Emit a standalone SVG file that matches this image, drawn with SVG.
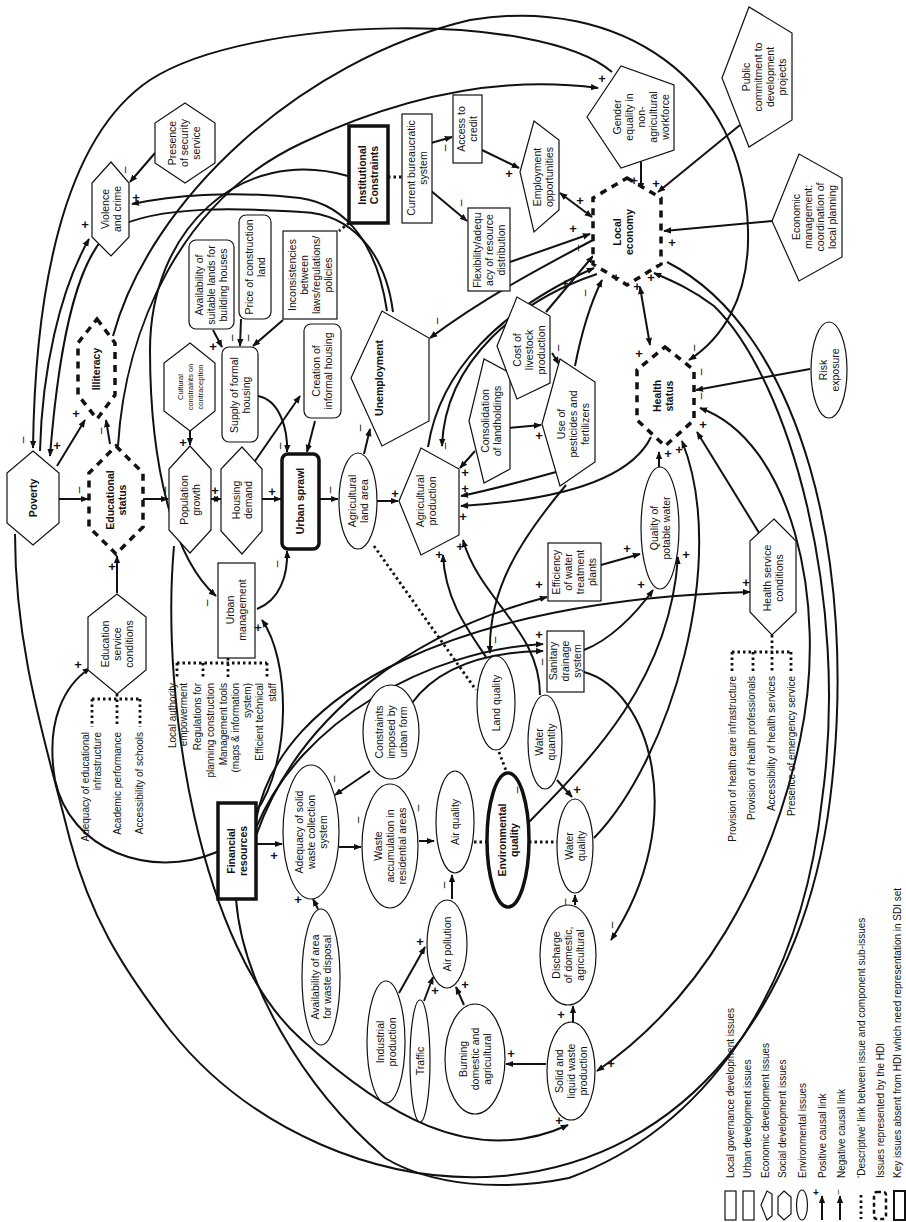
<svg xmlns="http://www.w3.org/2000/svg" width="906" height="1222" viewBox="0 0 906 1222">
<defs>
<style>
.s{fill:#fff;stroke:#111;stroke-width:1.2}
.k{fill:#fff;stroke:#111;stroke-width:3.5}
.d{fill:#fff;stroke:#111;stroke-width:3.5;stroke-dasharray:7 6}
.c{fill:none;stroke:#111;stroke-width:2}
.o{fill:none;stroke:#111;stroke-width:2.8;stroke-dasharray:2.5 3}
text{font-family:"Liberation Sans",Arial,sans-serif;fill:#111}
.t{font-size:10.5px;text-anchor:middle}
.b{font-size:10.5px;font-weight:bold;text-anchor:middle}
.sm{font-size:7.5px;text-anchor:middle}
.e{font-size:10px;text-anchor:end}
.lg{font-size:10px}
.p{font-size:13px;font-weight:bold;text-anchor:middle;dominant-baseline:central}
.m{font-size:12px;text-anchor:middle;dominant-baseline:central}
</style>
<marker id="a" viewBox="0 0 10 10" refX="9" refY="5" markerWidth="8" markerHeight="8" markerUnits="userSpaceOnUse" orient="auto-start-reverse"><path d="M0,1 L10,5 L0,9 z" fill="#111"/></marker>
</defs>
<rect width="906" height="1222" fill="#fff"/>

<g id="connectors">
<path class="c" d="M612,72 C540,10 250,15 150,80 C60,140 35,300 33,448" marker-end="url(#a)"/>
<path class="c" d="M113,336 C150,200 300,60 470,20 C620,-5 745,80 748,230 C750,300 720,340 689,360" marker-end="url(#a)"/>
<path class="c" d="M118,446 C125,330 180,200 302,143 C400,97 500,75 598,88" marker-end="url(#a)"/>
<path class="c" d="M40,451 C42,370 60,290 89,239" marker-end="url(#a)"/>
<path class="c" d="M387,311 C378,250 350,205 300,198 C230,190 170,196 132,204" marker-end="url(#a)"/>
<path class="c" d="M393,312 C385,250 350,214 302,212 C240,208 160,205 115,228 C80,250 60,330 50,456" marker-end="url(#a)"/>
<path class="c" d="M348,176 C240,145 150,230 150,350 C150,470 175,560 216,596" marker-end="url(#a)"/>
<path class="c" d="M256,812 C292,760 290,660 262,620" marker-end="url(#a)"/>
<path class="c" d="M256,836 C300,710 420,630 547,597" marker-end="url(#a)"/>
<path class="c" d="M256,828 C300,720 430,650 543,644" marker-end="url(#a)"/>
<path class="c" d="M256,820 C280,690 460,600 750,592" marker-end="url(#a)"/>
<path class="c" d="M412,703 C440,665 490,652 543,651" marker-end="url(#a)"/>
<path class="c" d="M217,852 C150,880 70,850 55,780 C45,720 65,685 90,668" marker-end="url(#a)"/>
<path class="c" d="M584,672 C650,690 690,820 611,940" marker-end="url(#a)"/>
<path class="c" d="M584,650 C610,640 635,615 653,590" marker-end="url(#a)"/>
<path class="c" d="M529,822 C590,760 670,680 678,557" marker-end="url(#a)"/>
<path class="c" d="M594,838 C670,760 730,560 682,441" marker-end="url(#a)"/>
<path class="c" d="M540,695 C540,630 480,600 463,540" marker-end="url(#a)"/>
<path class="c" d="M486,657 C468,630 445,600 443,555" marker-end="url(#a)"/>
<path class="c" d="M566,485 C520,540 488,590 490,653" marker-end="url(#a)"/>
<path class="c" d="M428,447 C440,370 500,310 594,268" marker-end="url(#a)"/>
<path class="c" d="M597,274 C520,300 445,360 442,446" marker-end="url(#a)"/>
<path class="c" d="M575,366 C582,330 592,300 602,280" marker-end="url(#a)"/>
<path class="c" d="M546,312 L593,256" marker-end="url(#a)"/>
<path class="c" d="M593,240 C540,268 480,300 430,338" marker-end="url(#a)"/>
<path class="c" d="M651,437 C630,480 560,500 461,506" marker-end="url(#a)"/>
<path class="c" d="M556,472 C520,482 490,490 461,496" marker-end="url(#a)"/>
<path class="c" d="M667,262 C800,330 860,560 830,800 C805,1000 690,1160 502,1176 C380,1186 250,1130 170,1030 C120,965 90,915 70,840 C45,740 15,650 15,534"/>
<path class="c" d="M236,899 C242,980 300,1085 385,1158 C430,1185 500,1192 569,1178 C700,1130 800,1000 822,800 C850,600 790,380 714,306 C690,288 670,280 654,273" marker-end="url(#a)"/>
<path class="c" d="M174,546 C160,700 200,950 302,1040 C380,1110 470,1170 568,1125" marker-end="url(#a)"/>
<path class="c" d="M597,1071 C700,1000 770,880 800,740 C830,600 790,440 700,408" marker-start="url(#a)" marker-end="url(#a)"/>
<path class="c" d="M155,153 L130,182" marker-end="url(#a)"/>
<path class="c" d="M424,145 L452,137" marker-end="url(#a)"/>
<path class="c" d="M430,190 L467,221" marker-end="url(#a)"/>
<path class="c" d="M482,150 L519,168" marker-end="url(#a)"/>
<path class="c" d="M560,193 L592,217" marker-start="url(#a)" marker-end="url(#a)"/>
<path class="c" d="M510,262 L590,234" marker-end="url(#a)"/>
<path class="c" d="M641,162 L641,190" marker-end="url(#a)"/>
<path class="c" d="M740,125 L658,192" marker-end="url(#a)"/>
<path class="c" d="M772,221 L664,231" marker-end="url(#a)"/>
<path class="c" d="M640,287 L650,345" marker-start="url(#a)" marker-end="url(#a)"/>
<path class="c" d="M59,499 L88,499" marker-end="url(#a)"/>
<path class="c" d="M57,466 L85,420" marker-end="url(#a)"/>
<path class="c" d="M110,444 L106,420" marker-end="url(#a)"/>
<path class="c" d="M190,431 L190,445" marker-end="url(#a)"/>
<path class="c" d="M143,499 L168,499" marker-end="url(#a)"/>
<path class="c" d="M211,499 L221,499" marker-start="url(#a)" marker-end="url(#a)"/>
<path class="c" d="M262,499 L281,499" marker-end="url(#a)"/>
<path class="c" d="M213,330 L222,347" marker-end="url(#a)"/>
<path class="c" d="M241,319 L240,346" marker-end="url(#a)"/>
<path class="c" d="M283,320 L253,346" marker-end="url(#a)"/>
<path class="c" d="M255,461 L300,396" marker-end="url(#a)"/>
<path class="c" d="M315,421 L307,452" marker-end="url(#a)"/>
<path class="c" d="M258,396 C280,400 288,430 287,452" marker-end="url(#a)"/>
<path class="c" d="M257,609 C280,600 288,575 287,551" marker-end="url(#a)"/>
<path class="c" d="M117,593 L117,556" marker-end="url(#a)"/>
<path class="c" d="M319,499 L338,499" marker-end="url(#a)"/>
<path class="c" d="M364,454 L370,429" marker-end="url(#a)"/>
<path class="c" d="M377,501 L398,501" marker-end="url(#a)"/>
<path class="c" d="M475,451 L460,468" marker-end="url(#a)"/>
<path class="c" d="M507,428 L541,425" marker-end="url(#a)"/>
<path class="c" d="M552,353 L559,364" marker-end="url(#a)"/>
<path class="c" d="M601,565 L640,554" marker-end="url(#a)"/>
<path class="c" d="M659,467 L659,452" marker-end="url(#a)"/>
<path class="c" d="M810,369 L696,390" marker-end="url(#a)"/>
<path class="c" d="M761,536 L697,432" marker-end="url(#a)"/>
<path class="c" d="M557,780 L572,797" marker-end="url(#a)"/>
<path class="c" d="M339,847 L361,847" marker-end="url(#a)"/>
<path class="c" d="M419,841 L434,841" marker-end="url(#a)"/>
<path class="c" d="M370,771 L335,795" marker-end="url(#a)"/>
<path class="c" d="M452,899 L452,875" marker-end="url(#a)"/>
<path class="c" d="M575,905 L575,895" marker-end="url(#a)"/>
<path class="c" d="M399,993 L425,947" marker-end="url(#a)"/>
<path class="c" d="M424,1001 L433,977" marker-end="url(#a)"/>
<path class="c" d="M464,1005 L456,987" marker-end="url(#a)"/>
<path class="c" d="M546,1064 L506,1064" marker-end="url(#a)"/>
<path class="c" d="M573,1022 L573,1006" marker-end="url(#a)"/>
<path class="c" d="M318,909 L313,899" marker-end="url(#a)"/>
<path class="c" d="M257,844 L282,844" marker-end="url(#a)"/>
<path class="o" d="M388,177 L402,177"/>
<path class="o" d="M349,223 L339,231"/>
<path class="o" d="M374,546 L476,690"/>
<path class="o" d="M499,752 L507,773"/>
<path class="o" d="M474,842 L487,842"/>
<path class="o" d="M529,842 L557,842"/>
<path class="o" d="M117,694 L117,727 M92,699 L140,699 M92,699 L92,727 M140,699 L140,727"/>
<path class="o" d="M177,663 L267,663 M177,663 L177,679 M203,663 L203,677 M228,658 L228,679 M267,663 L267,679"/>
<path class="o" d="M772,635 L772,672 M732,652 L791,652 M732,652 L732,672 M753,652 L753,672 M791,652 L791,672"/>
</g>

<g id="nodes">
<g id="n-poverty"><polygon class="s" points="33,451 59,473 59,523 33,545 7,523 7,473"/><text class="b" transform="translate(37,498) rotate(-90)">Poverty</text></g>
<g id="n-educational"><polygon class="d" points="116,446 143,473 143,527 116,554 89,527 89,473"/><text class="b" transform="translate(114,500) rotate(-90)"><tspan x="0">Educational</tspan><tspan x="0" dy="12">status</tspan></text></g>
<g id="n-illiteracy"><polygon class="d" points="97,319 115,343 115,395 97,419 78,395 78,343"/><text class="b" transform="translate(100,369) rotate(-90)">Illiteracy</text></g>
<g id="n-violence"><polygon class="s" points="111,162 129,183 129,237 111,256 92,237 92,183"/><text class="t" transform="translate(109,209) rotate(-90)"><tspan x="0">Violence</tspan><tspan x="0" dy="12">and crime</tspan></text></g>
<g id="n-security"><polygon class="s" points="185,103 215,123 215,163 185,183 155,163 155,123"/><text class="t" transform="translate(176,143) rotate(-90)"><tspan x="0">Presence</tspan><tspan x="0" dy="12">of security</tspan><tspan x="0" dy="12">service</tspan></text></g>
<g id="n-institutional"><rect class="k" x="349" y="126" width="39" height="97"/><text class="b" transform="translate(366,175) rotate(-90)"><tspan x="0">Institutional</tspan><tspan x="0" dy="12">Constraints</tspan></text></g>
<g id="n-bureaucratic"><rect class="s" x="402" y="114" width="30" height="109"/><text class="t" transform="translate(415,168) rotate(-90)"><tspan x="0">Current bureaucratic</tspan><tspan x="0" dy="12">system</tspan></text></g>
<g id="n-credit"><rect class="s" x="453" y="95" width="29" height="68"/><text class="t" transform="translate(465,129) rotate(-90)"><tspan x="0">Access  to</tspan><tspan x="0" dy="12">credit</tspan></text></g>
<g id="n-flexibility"><rect class="s" x="468" y="208" width="42" height="83"/><text class="t" transform="translate(481,250) rotate(-90)"><tspan x="0">Flexibility/adequ</tspan><tspan x="0" dy="12">acy of resource</tspan><tspan x="0" dy="12">distribution</tspan></text></g>
<g id="n-employment"><polygon class="s" points="520,172 534,121 559,140 559,210 534,232"/><text class="t" transform="translate(541,177) rotate(-90)"><tspan x="0">Employment</tspan><tspan x="0" dy="12">opportunities</tspan></text></g>
<g id="n-gender"><polygon class="s" points="587,117 621,66 674,85 674,150 621,168"/><text class="t" transform="translate(621,117) rotate(-90)"><tspan x="0">Gender</tspan><tspan x="0" dy="12">equality in</tspan><tspan x="0" dy="12">non-</tspan><tspan x="0" dy="12">agricultural</tspan><tspan x="0" dy="12">workforce</tspan></text></g>
<g id="n-public"><polygon class="s" points="722,78 749,7 792,33 792,120 749,147"/><text class="t" transform="translate(750,77) rotate(-90)"><tspan x="0">Public</tspan><tspan x="0" dy="12">commitment to</tspan><tspan x="0" dy="12">development</tspan><tspan x="0" dy="12">projects</tspan></text></g>
<g id="n-economic"><polygon class="s" points="772,221 799,154 842,178 842,257 799,281"/><text class="t" transform="translate(800,217) rotate(-90)"><tspan x="0">Economic</tspan><tspan x="0" dy="12">management:</tspan><tspan x="0" dy="12">coordination of</tspan><tspan x="0" dy="12">local planning</tspan></text></g>
<g id="n-localeconomy"><polygon class="d" points="627,178 661,198 661,264 627,285 593,264 593,198"/><text class="b" transform="translate(621,232) rotate(-90)"><tspan x="0">Local</tspan><tspan x="0" dy="12">economy</tspan></text></g>
<g id="n-lands"><rect class="s" x="189" y="240" width="45" height="89" rx="7"/><text class="t" transform="translate(203,285) rotate(-90)"><tspan x="0">Availability of</tspan><tspan x="0" dy="12">suitable lands for</tspan><tspan x="0" dy="12">building houses</tspan></text></g>
<g id="n-price"><rect class="s" x="239" y="215" width="32" height="104" rx="7"/><text class="t" transform="translate(253,267) rotate(-90)"><tspan x="0">Price of construction</tspan><tspan x="0" dy="12">land</tspan></text></g>
<g id="n-inconsistencies"><rect class="s" x="283" y="231" width="54" height="88"/><text class="t" transform="translate(296,275) rotate(-90)"><tspan x="0">Inconsistencies</tspan><tspan x="0" dy="12">between</tspan><tspan x="0" dy="12">laws/regulations/</tspan><tspan x="0" dy="12">policies</tspan></text></g>
<g id="n-cultural"><polygon class="s" points="190,343 215,363 215,411 190,431 164,411 164,363"/><text class="sm" transform="translate(183,387) rotate(-90)"><tspan x="0">Cultural</tspan><tspan x="0" dy="10">constraints on</tspan><tspan x="0" dy="10">contraception</tspan></text></g>
<g id="n-population"><polygon class="s" points="190,446 211,469 211,530 190,553 169,530 169,469"/><text class="t" transform="translate(188,500) rotate(-90)"><tspan x="0">Population</tspan><tspan x="0" dy="12">growth</tspan></text></g>
<g id="n-supply"><rect class="s" x="222" y="347" width="36" height="95" rx="7"/><text class="t" transform="translate(238,395) rotate(-90)"><tspan x="0">Supply of formal</tspan><tspan x="0" dy="12">housing</tspan></text></g>
<g id="n-housing"><polygon class="s" points="242,447 262,469 262,531 242,554 221,531 221,469"/><text class="t" transform="translate(240,500) rotate(-90)"><tspan x="0">Housing</tspan><tspan x="0" dy="12">demand</tspan></text></g>
<g id="n-informal"><rect class="s" x="304" y="324" width="37" height="94" rx="7"/><text class="t" transform="translate(320,371) rotate(-90)"><tspan x="0">Creation of</tspan><tspan x="0" dy="12">informal housing</tspan></text></g>
<g id="n-sprawl"><rect class="k" x="282" y="454" width="37" height="95" rx="6"/><text class="b" transform="translate(304,501) rotate(-90)">Urban sprawl</text></g>
<g id="n-urbanmgmt"><rect class="s" x="218" y="563" width="37" height="95"/><text class="t" transform="translate(234,610) rotate(-90)"><tspan x="0">Urban</tspan><tspan x="0" dy="12">management</tspan></text></g>
<g id="n-unemployment"><polygon class="s" points="351,378 382,311 429,338 429,421 382,446"/><text class="b" transform="translate(383,378) rotate(-90)">Unemployment</text></g>
<g id="n-agriland"><ellipse class="s" cx="358" cy="501" rx="19" ry="48"/><text class="t" transform="translate(356,501) rotate(-90)"><tspan x="0">Agricultural</tspan><tspan x="0" dy="12">land area</tspan></text></g>
<g id="n-agriprod"><polygon class="s" points="399,501 421,448 459,469 459,535 421,555"/><text class="t" transform="translate(424,501) rotate(-90)"><tspan x="0">Agricultural</tspan><tspan x="0" dy="12">production</tspan></text></g>
<g id="n-consolidation"><polygon class="s" points="469,421 484,359 510,373 510,469 484,483"/><text class="t" transform="translate(489,421) rotate(-90)"><tspan x="0">Consolidation</tspan><tspan x="0" dy="12">of landholdings</tspan></text></g>
<g id="n-livestock"><polygon class="s" points="497,346 517,297 550,316 550,383 517,399"/><text class="t" transform="translate(521,350) rotate(-90)"><tspan x="0">Cost of</tspan><tspan x="0" dy="12">livestock</tspan><tspan x="0" dy="12">production</tspan></text></g>
<g id="n-pesticides"><polygon class="s" points="542,424 560,359 595,382 595,462 560,486"/><text class="t" transform="translate(565,424) rotate(-90)"><tspan x="0">Use of</tspan><tspan x="0" dy="12">pesticides and</tspan><tspan x="0" dy="12">fertilizers</tspan></text></g>
<g id="n-efficiency"><rect class="s" x="548" y="543" width="53" height="58"/><text class="t" transform="translate(560,572) rotate(-90)"><tspan x="0">Efficiency</tspan><tspan x="0" dy="12">of water</tspan><tspan x="0" dy="12">treatment</tspan><tspan x="0" dy="12">plants</tspan></text></g>
<g id="n-potable"><ellipse class="s" cx="660" cy="528" rx="19" ry="61"/><text class="t" transform="translate(658,528) rotate(-90)"><tspan x="0">Quality of</tspan><tspan x="0" dy="12">potable water</tspan></text></g>
<g id="n-health"><polygon class="d" points="665,347 694,370 694,420 665,446 637,420 637,370"/><text class="b" transform="translate(661,396) rotate(-90)"><tspan x="0">Health</tspan><tspan x="0" dy="12">status</tspan></text></g>
<g id="n-risk"><ellipse class="s" cx="829" cy="370" rx="18" ry="48"/><text class="t" transform="translate(827,370) rotate(-90)"><tspan x="0">Risk</tspan><tspan x="0" dy="12">exposure</tspan></text></g>
<g id="n-healthservice"><polygon class="s" points="774,519 796,541 796,612 772,635 750,612 750,541"/><text class="t" transform="translate(771,578) rotate(-90)"><tspan x="0">Health service</tspan><tspan x="0" dy="12">conditions</tspan></text></g>
<g id="n-landquality"><ellipse class="s" cx="496" cy="703" rx="19" ry="47"/><text class="t" transform="translate(500,703) rotate(-90)">Land quality</text></g>
<g id="n-sanitary"><rect class="s" x="547" y="631" width="37" height="61"/><text class="t" transform="translate(557,661) rotate(-90)"><tspan x="0">Sanitary</tspan><tspan x="0" dy="12">drainage</tspan><tspan x="0" dy="12">system</tspan></text></g>
<g id="n-waterquantity"><ellipse class="s" cx="545" cy="742" rx="17" ry="47"/><text class="t" transform="translate(543,742) rotate(-90)"><tspan x="0">Water</tspan><tspan x="0" dy="12">quantity</tspan></text></g>
<g id="n-waterquality"><ellipse class="s" cx="575" cy="846" rx="18" ry="47"/><text class="t" transform="translate(573,846) rotate(-90)"><tspan x="0">Water</tspan><tspan x="0" dy="12">quality</tspan></text></g>
<g id="n-environmental"><ellipse class="k" cx="508" cy="840" rx="21" ry="67"/><text class="b" transform="translate(506,840) rotate(-90)"><tspan x="0">Environmental</tspan><tspan x="0" dy="12">quality</tspan></text></g>
<g id="n-airquality"><ellipse class="s" cx="455" cy="822" rx="19" ry="51"/><text class="t" transform="translate(459,822) rotate(-90)">Air quality</text></g>
<g id="n-wasteaccum"><ellipse class="s" cx="390" cy="846" rx="28" ry="62"/><text class="t" transform="translate(382,846) rotate(-90)"><tspan x="0">Waste</tspan><tspan x="0" dy="12">accumulation in</tspan><tspan x="0" dy="12">residential areas</tspan></text></g>
<g id="n-solidcollection"><ellipse class="s" cx="311" cy="832" rx="28" ry="67"/><text class="t" transform="translate(303,832) rotate(-90)"><tspan x="0">Adequacy of  solid</tspan><tspan x="0" dy="12">waste collection</tspan><tspan x="0" dy="12">system</tspan></text></g>
<g id="n-urbanform"><ellipse class="s" cx="391" cy="732" rx="28" ry="47"/><text class="t" transform="translate(383,732) rotate(-90)"><tspan x="0">Constraints</tspan><tspan x="0" dy="12">imposed by</tspan><tspan x="0" dy="12">urban form</tspan></text></g>
<g id="n-financial"><rect class="k" x="218" y="803" width="38" height="96"/><text class="b" transform="translate(235,851) rotate(-90)"><tspan x="0">Financial</tspan><tspan x="0" dy="12">resources</tspan></text></g>
<g id="n-eduservice"><polygon class="s" points="117,594 146,617 146,670 117,694 88,670 88,617"/><text class="t" transform="translate(109,644) rotate(-90)"><tspan x="0">Education</tspan><tspan x="0" dy="12">service</tspan><tspan x="0" dy="12">conditions</tspan></text></g>
<g id="n-disposal"><ellipse class="s" cx="321" cy="977" rx="19" ry="68"/><text class="t" transform="translate(319,977) rotate(-90)"><tspan x="0">Availability of area</tspan><tspan x="0" dy="12">for waste disposal</tspan></text></g>
<g id="n-airpollution"><ellipse class="s" cx="447" cy="944" rx="20" ry="44"/><text class="t" transform="translate(451,944) rotate(-90)">Air pollution</text></g>
<g id="n-industrial"><ellipse class="s" cx="386" cy="1042" rx="19" ry="61"/><text class="t" transform="translate(384,1042) rotate(-90)"><tspan x="0">Industrial</tspan><tspan x="0" dy="12">production</tspan></text></g>
<g id="n-traffic"><ellipse class="s" cx="420" cy="1061" rx="10" ry="61"/><text class="t" transform="translate(424,1061) rotate(-90)">Traffic</text></g>
<g id="n-burning"><ellipse class="s" cx="475" cy="1059" rx="30" ry="55"/><text class="t" transform="translate(467,1059) rotate(-90)"><tspan x="0">Burning</tspan><tspan x="0" dy="12">domestic and</tspan><tspan x="0" dy="12">agricultural</tspan></text></g>
<g id="n-solidwaste"><ellipse class="s" cx="571" cy="1071" rx="24" ry="49"/><text class="t" transform="translate(563,1071) rotate(-90)"><tspan x="0">Solid and</tspan><tspan x="0" dy="12">liquid waste</tspan><tspan x="0" dy="12">production</tspan></text></g>
<g id="n-discharge"><ellipse class="s" cx="568" cy="955" rx="28" ry="50"/><text class="t" transform="translate(560,955) rotate(-90)"><tspan x="0">Discharge</tspan><tspan x="0" dy="12">of domestic,</tspan><tspan x="0" dy="12">agricultural</tspan></text></g>
</g>

<g id="subissues">
<text class="e" transform="translate(88.5,732) rotate(-90)">Adequacy of educational</text>
<text class="e" transform="translate(100.5,732) rotate(-90)">infrastructure</text>
<text class="e" transform="translate(120.5,732) rotate(-90)">Academic performance</text>
<text class="e" transform="translate(142.5,732) rotate(-90)">Accessibility of schools</text>
<text class="e" transform="translate(175.5,683) rotate(-90)">Local authority</text>
<text class="e" transform="translate(186.5,683) rotate(-90)">empowerment</text>
<text class="e" transform="translate(200.5,683) rotate(-90)">Regulations for</text>
<text class="e" transform="translate(213.5,683) rotate(-90)">planning construction</text>
<text class="e" transform="translate(226.5,683) rotate(-90)">Management tools</text>
<text class="e" transform="translate(238.5,683) rotate(-90)">(maps &amp; information</text>
<text class="e" transform="translate(250.5,683) rotate(-90)">system)</text>
<text class="e" transform="translate(262.5,683) rotate(-90)">Efficient technical</text>
<text class="e" transform="translate(275.5,683) rotate(-90)">staff</text>
<text class="e" transform="translate(735.5,676) rotate(-90)">Provision of health care infrastructure</text>
<text class="e" transform="translate(754.5,676) rotate(-90)">Provision of health professionals</text>
<text class="e" transform="translate(774.5,676) rotate(-90)">Accessibility of health services</text>
<text class="e" transform="translate(794.5,676) rotate(-90)">Presence of emergency service</text>
</g>

<g id="labels">
<text class="p" x="136" y="197">+</text><text class="p" x="85" y="224">+</text><text class="p" x="509" y="173">+</text>
<text class="p" x="580" y="200">+</text><text class="p" x="573" y="228">+</text><text class="p" x="565" y="283">+</text>
<text class="p" x="634" y="180">+</text><text class="p" x="656" y="183">+</text><text class="p" x="672" y="242">+</text>
<text class="p" x="616" y="277">+</text><text class="p" x="637" y="286">+</text><text class="p" x="651" y="277">+</text>
<text class="p" x="602" y="78">+</text><text class="p" x="76" y="413">+</text><text class="p" x="57" y="445">+</text>
<text class="p" x="183" y="442">+</text><text class="p" x="215" y="490">+</text><text class="p" x="272" y="491">+</text>
<text class="p" x="213" y="346">+</text><text class="p" x="112" y="566">+</text><text class="p" x="78" y="664">+</text>
<text class="p" x="258" y="627">+</text><text class="p" x="274" y="855">+</text><text class="p" x="395" y="493">+</text>
<text class="p" x="539" y="435">+</text><text class="p" x="465" y="472">+</text><text class="p" x="465" y="488">+</text>
<text class="p" x="463" y="516">+</text><text class="p" x="439" y="554">+</text><text class="p" x="460" y="546">+</text>
<text class="p" x="539" y="584">+</text><text class="p" x="627" y="548">+</text><text class="p" x="641" y="584">+</text>
<text class="p" x="686" y="554">+</text><text class="p" x="668" y="453">+</text><text class="p" x="639" y="353">+</text>
<text class="p" x="703" y="424">+</text><text class="p" x="679" y="449">+</text><text class="p" x="746" y="582">+</text>
<text class="p" x="539" y="634">+</text><text class="p" x="577" y="789">+</text><text class="p" x="298" y="899">+</text>
<text class="p" x="420" y="941">+</text><text class="p" x="435" y="990">+</text><text class="p" x="465" y="984">+</text>
<text class="p" x="511" y="1053">+</text><text class="p" x="561" y="1014">+</text><text class="p" x="559" y="1120">+</text>
<text class="p" x="611" y="1063">+</text>
<text class="m" transform="translate(23,440) rotate(-90)">–</text>
<text class="m" transform="translate(125,170) rotate(-90)">–</text>
<text class="m" transform="translate(445,148) rotate(-90)">–</text>
<text class="m" transform="translate(461,203) rotate(-90)">–</text>
<text class="m" transform="translate(578,248) rotate(-90)">–</text>
<text class="m" transform="translate(585,293) rotate(-90)">–</text>
<text class="m" transform="translate(79,490) rotate(-90)">–</text>
<text class="m" transform="translate(101,431) rotate(-90)">–</text>
<text class="m" transform="translate(165,490) rotate(-90)">–</text>
<text class="m" transform="translate(232,338) rotate(-90)">–</text>
<text class="m" transform="translate(248,338) rotate(-90)">–</text>
<text class="m" transform="translate(280,446) rotate(-90)">–</text>
<text class="m" transform="translate(277,564) rotate(-90)">–</text>
<text class="m" transform="translate(207,603) rotate(-90)">–</text>
<text class="m" transform="translate(330,490) rotate(-90)">–</text>
<text class="m" transform="translate(360,428) rotate(-90)">–</text>
<text class="m" transform="translate(437,321) rotate(-90)">–</text>
<text class="m" transform="translate(445,446) rotate(-90)">–</text>
<text class="m" transform="translate(558,348) rotate(-90)">–</text>
<text class="m" transform="translate(694,348) rotate(-90)">–</text>
<text class="m" transform="translate(701,372) rotate(-90)">–</text>
<text class="m" transform="translate(701,396) rotate(-90)">–</text>
<text class="m" transform="translate(495,640) rotate(-90)">–</text>
<text class="m" transform="translate(542,662) rotate(-90)">–</text>
<text class="m" transform="translate(517,790) rotate(-90)">–</text>
<text class="m" transform="translate(418,808) rotate(-90)">–</text>
<text class="m" transform="translate(358,820) rotate(-90)">–</text>
<text class="m" transform="translate(334,779) rotate(-90)">–</text>
<text class="m" transform="translate(444,885) rotate(-90)">–</text>
<text class="m" transform="translate(565,902) rotate(-90)">–</text>
<text class="m" transform="translate(612,925) rotate(-90)">–</text>
</g>

<g id="legend">
<rect class="s" x="725" y="1191" width="11" height="29"/>
<rect class="s" x="743" y="1191" width="11" height="29"/>
<polygon class="s" points="761,1205 767,1191 772,1194 772,1216 767,1220"/>
<polygon class="s" points="784,1191 791,1197 791,1214 784,1220 778,1214 778,1197"/>
<ellipse class="s" cx="802" cy="1205" rx="5.5" ry="15"/>
<path class="c" d="M822,1220 L822,1196" marker-end="url(#a)"/>
<text class="p" x="816" y="1192" style="font-size:10px">+</text>
<path class="c" d="M840,1220 L840,1196" marker-end="url(#a)"/>
<text class="m" transform="translate(838,1192) rotate(-90)" style="font-size:9px">–</text>
<path class="o" d="M861,1195 L861,1219"/>
<rect x="874" y="1192" width="12" height="27" rx="3" fill="#fff" stroke="#111" stroke-width="2.5" stroke-dasharray="4 3"/>
<rect class="s" x="894" y="1191" width="11" height="29" style="stroke-width:2"/>
<text class="lg" transform="translate(733.5,1178) rotate(-90)">Local governance development issues</text>
<text class="lg" transform="translate(750.5,1178) rotate(-90)">Urban development issues</text>
<text class="lg" transform="translate(768.5,1178) rotate(-90)">Economic development issues</text>
<text class="lg" transform="translate(785.5,1178) rotate(-90)">Social development issues</text>
<text class="lg" transform="translate(805.5,1178) rotate(-90)">Environmental issues</text>
<text class="lg" transform="translate(825.5,1178) rotate(-90)">Positive causal link</text>
<text class="lg" transform="translate(844.5,1178) rotate(-90)">Negative causal link</text>
<text class="lg" transform="translate(864.5,1178) rotate(-90)">‘Descriptive’ link between issue and component sub-issues</text>
<text class="lg" transform="translate(883.5,1178) rotate(-90)">Issues represented by the HDI</text>
<text class="lg" transform="translate(900.5,1178) rotate(-90)">Key issues absent from HDI which need representation in SDI set</text>
</g>
</svg>
